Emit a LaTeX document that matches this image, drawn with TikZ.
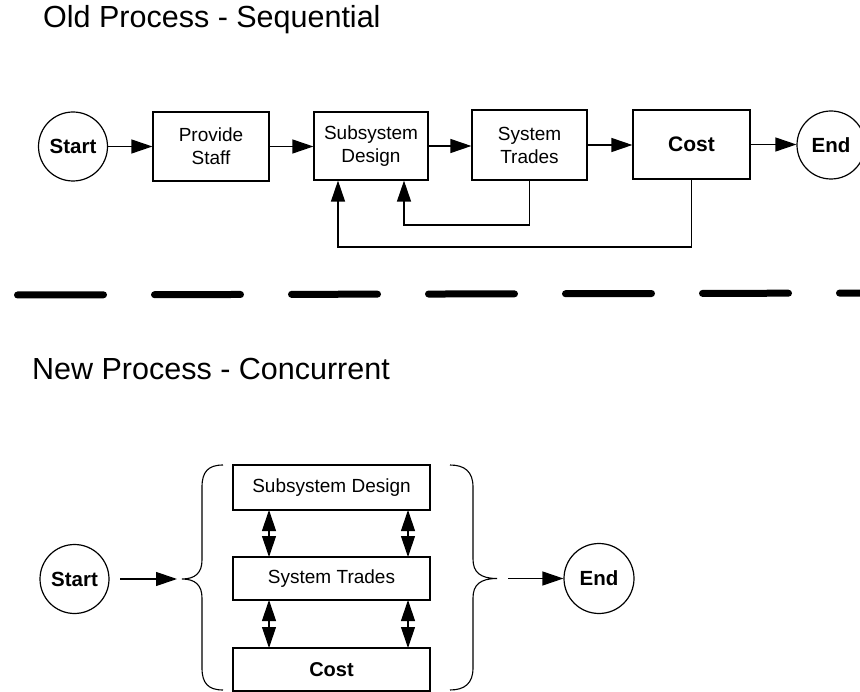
\documentclass[tikz,border=0pt]{standalone}
\usepackage{fontspec}
\setmainfont{Liberation Sans}
\usetikzlibrary{arrows.meta}

\tikzset{
  box/.style={draw, line width=1.2pt, rectangle, inner sep=0pt, align=center,
    font=\fontsize{19}{23}\selectfont},
  term/.style={draw, line width=1.2pt, circle, inner sep=0pt, minimum size=69pt,
    font=\bfseries\fontsize{20.5}{24}\selectfont},
  heading/.style={anchor=base west, inner sep=0pt, font=\fontsize{30.5}{36}\selectfont},
  flow/.style={line width=1.2pt, -{Triangle[length=21pt,width=14pt]}},
  twoway/.style={line width=1.2pt, {Triangle[length=21pt,width=14pt]}-{Triangle[length=21pt,width=14pt]}},
  brace/.style={line width=1.1pt}
}

\begin{document}
\begin{tikzpicture}[x=1pt, y=-1pt]
  \useasboundingbox (0,0) rectangle (860,692);

  % ---------- sequential process ----------
  \node[heading] (oldtitle) at (43,28) {Old Process - Sequential};

  \node[term] (start1) at (73,146.5) {Start};
  \node[box, minimum width=116pt, minimum height=69pt] (staff) at (211,146.5) {Provide\\Staff};
  \node[box, minimum width=114pt, minimum height=68pt] (sd1) at (371,146) {Subsystem\\Design};
  \node[box, minimum width=115pt, minimum height=70pt] (st1) at (529.5,145) {System\\Trades};
  \node[box, minimum width=117pt, minimum height=69pt, font=\bfseries\fontsize{21}{25}\selectfont] (cost1) at (691.5,144.5) {Cost};
  \node[term, minimum size=68pt] (end1) at (831,145) {End};

  \draw[flow] (start1.east) -- (start1.east -| staff.west);
  \draw[flow] (staff.east) -- (staff.east -| sd1.west);
  \draw[flow] (sd1.east) -- (sd1.east -| st1.west);
  \draw[flow] (st1.east) -- (st1.east -| cost1.west);
  \draw[flow] (cost1.east) -- (cost1.east -| end1.west);

  % feedback loops back to the design step
  \coordinate (loopA) at (404,225);
  \coordinate (loopB) at (338,247);
  \draw[flow] (st1.south) |- (loopA) -- (loopA |- sd1.south);
  \draw[flow] (cost1.south) |- (loopB) -- (loopB |- sd1.south);

  % separator
  \draw[line width=7pt, line cap=round, dash pattern=on 86pt off 51pt] (17.5,295) -- (875,293);

  % ---------- concurrent process ----------
  \node[heading] (newtitle) at (32,380) {New Process - Concurrent};

  \node[term] (start2) at (74.5,579) {Start};
  \node[box, minimum width=197pt, minimum height=45pt] (sd2) at (331.5,487.5) {Subsystem Design};
  \node[box, minimum width=197pt, minimum height=43pt] (st2) at (331.5,578.5) {System Trades};
  \node[box, minimum width=197pt, minimum height=43pt, font=\bfseries\fontsize{20}{24}\selectfont] (cost2) at (331.5,669.5) {Cost};
  \node[term, minimum size=70pt] (end2) at (599,578.5) {End};

  % braces grouping the concurrent steps
  \coordinate (lbrace) at (182,579);
  \coordinate (rbrace) at (497,578.5);
  \draw[brace] (223,465) .. controls (208,465) and (202,472) .. (202,487)
    -- (202,560) .. controls (202,573) and (195,579) .. (lbrace)
    .. controls (195,579) and (202,585) .. (202,598)
    -- (202,668) .. controls (202,683) and (208,690) .. (223,690);
  \draw[brace] (450,465) .. controls (465,465) and (473,472) .. (473,487)
    -- (473,559) .. controls (473,572) and (480,578.5) .. (rbrace)
    .. controls (480,578.5) and (473,585) .. (473,598)
    -- (473,668) .. controls (473,683) and (465,690) .. (450,690);

  \coordinate (leadin) at (120,579);
  \draw[flow] (leadin) -- ([xshift=-5pt]lbrace);
  \draw[flow] ([xshift=11pt]rbrace) -- (end2.west);

  % two-way links between the concurrent steps
  \draw[twoway] (269,510) -- (269,557);
  \draw[twoway] (408,510) -- (408,557);
  \draw[twoway] (269,600) -- (269,648);
  \draw[twoway] (408,600) -- (408,648);
\end{tikzpicture}
\end{document}
